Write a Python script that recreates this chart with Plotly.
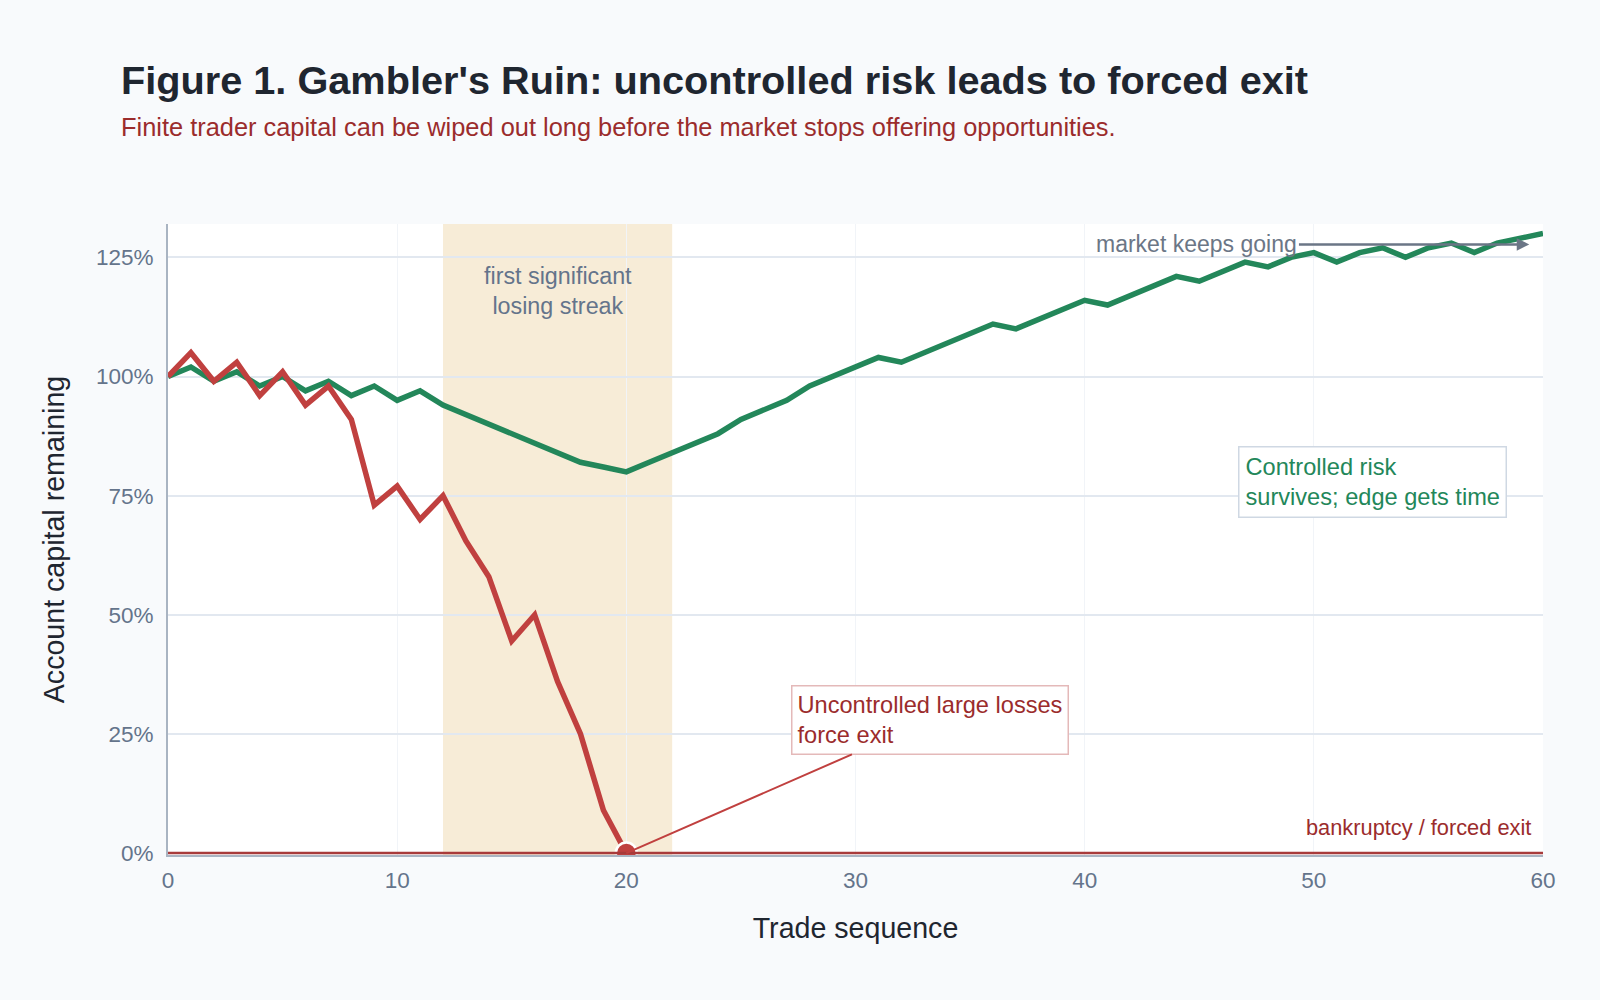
import plotly.graph_objects as go

# ---------------- data ----------------
trades = list(range(0, 61))
controlled = [100, 102, 99, 101, 98, 100, 97, 99, 96, 98, 95, 97, 94, 92, 90, 88, 86, 84, 82, 81,
              80, 82, 84, 86, 88, 91, 93, 95, 98, 100, 102, 104, 103, 105, 107, 109, 111, 110, 112, 114,
              116, 115, 117, 119, 121, 120, 122, 124, 123, 125, 126, 124, 126, 127, 125, 127, 128, 126, 128, 129,
              130]
uncontrolled_x = list(range(0, 21))
uncontrolled = [100, 105, 99, 103, 96, 101, 94, 98, 91, 73, 77, 70, 75, 65.5, 58, 44.5, 50, 36, 25, 9, 0]

streak_start, streak_end = 12, 22
exit_trade, exit_value = 20, 0
y_ticks = [0, 25, 50, 75, 100, 125]
y_ticktext = ["0%", "25%", "50%", "75%", "100%", "125%"]
x_ticks = [0, 10, 20, 30, 40, 50, 60]

GREEN = "#23875a"
RED = "#c0403f"
DARKRED = "#9b2c2c"
SLATE = "#64748b"
FONT = "Liberation Sans, Arial, sans-serif"

fig = go.Figure()

fig.add_trace(go.Scatter(x=trades, y=controlled, mode="lines",
                         line=dict(color=GREEN, width=5.5), name="Controlled risk",
                         hoverinfo="skip"))
fig.add_trace(go.Scatter(x=uncontrolled_x, y=uncontrolled, mode="lines",
                         line=dict(color=RED, width=5.5), name="Uncontrolled risk",
                         hoverinfo="skip"))

# shaded losing streak band
fig.add_shape(type="rect", xref="x", yref="paper", x0=streak_start, x1=streak_end, y0=0, y1=1,
              fillcolor="#f7ecd7", line=dict(width=0), layer="below")
# bankruptcy line
fig.add_shape(type="line", xref="paper", yref="y", x0=0, x1=1, y0=0, y1=0,
              line=dict(color="#a83a3a", width=2.5))

# forced-exit point (drawn after the line so it sits on top)
fig.add_trace(go.Scatter(x=[exit_trade], y=[exit_value], mode="markers",
                         marker=dict(color=RED, size=21, line=dict(color="white", width=2.5)),
                         cliponaxis=True, hoverinfo="skip"))

annotations = [
    dict(text="<b>Figure 1. Gambler's Ruin: uncontrolled risk leads to forced exit</b>",
         xref="paper", yref="paper", x=-0.036, y=1.229, xanchor="left", yanchor="middle",
         showarrow=False, font=dict(size=39.7, color="#1f2630", family=FONT)),
    dict(text="Finite trader capital can be wiped out long before the market stops offering opportunities.",
         xref="paper", yref="paper", x=-0.036, y=1.153, xanchor="left", yanchor="middle",
         showarrow=False, font=dict(size=25.4, color=DARKRED, family=FONT)),
    dict(text="first significant<br>losing streak", x=(streak_start + streak_end) / 2, y=118,
         xref="x", yref="y", showarrow=False, align="center",
         font=dict(size=23.3, color=SLATE, family=FONT)),
    dict(text="Uncontrolled large losses<br>force exit", x=exit_trade, y=exit_value,
         ax=33.26, ay=27.9, axref="x", ayref="y", xref="x", yref="y",
         showarrow=True, arrowhead=0, arrowwidth=2, arrowcolor=RED, standoff=0,
         align="left", bgcolor="white", bordercolor="#e4b9b9", borderwidth=1.5, borderpad=5,
         font=dict(size=23.6, color=DARKRED, family=FONT)),
    dict(text="Controlled risk<br>survives; edge gets time", x=52.56, y=77.9, xref="x", yref="y",
         showarrow=False, align="left", bgcolor="white", bordercolor="#cfd8e3",
         borderwidth=1.5, borderpad=6, font=dict(size=23.6, color=GREEN, family=FONT)),
    dict(text="market keeps going", x=59.4, y=127.7, ax=49.35, ay=127.7, axref="x", ayref="y",
         xref="x", yref="y", xanchor="right", showarrow=True, arrowhead=2, arrowsize=1,
         arrowwidth=2.5, arrowcolor="#6b7686", standoff=0,
         font=dict(size=23, color="#6b7686", family=FONT)),
    dict(text="bankruptcy / forced exit", x=60, y=0, xref="x", yref="y", xanchor="right",
         yanchor="bottom", xshift=-10, yshift=11, showarrow=False,
         font=dict(size=21.8, color=DARKRED, family=FONT)),
]

fig.update_layout(
    width=1600, height=1000,
    paper_bgcolor="#f8fafc", plot_bgcolor="#ffffff",
    margin=dict(l=168, r=57, t=224, b=145),
    showlegend=False,
    font=dict(family=FONT, color=SLATE),
    annotations=annotations,
)
fig.update_xaxes(range=[0, 60], tickvals=x_ticks, showgrid=True, gridcolor="#f1f4f8", gridwidth=1,
                 showline=True, linecolor="#a9b4c2", linewidth=2, zeroline=False, ticks="",
                 ticklabelstandoff=4,
                 tickfont=dict(size=22.5, color=SLATE, family=FONT),
                 title=dict(text="Trade sequence", font=dict(size=28.6, color="#1f2630", family=FONT),
                            standoff=26))
fig.update_yaxes(range=[-0.4, 132], tickvals=y_ticks, ticktext=y_ticktext, showgrid=True,
                 gridcolor="#e2e8f0", gridwidth=2, showline=True, linecolor="#a9b4c2", linewidth=2,
                 zeroline=False, ticks="", ticklabelstandoff=8,
                 tickfont=dict(size=22.5, color=SLATE, family=FONT),
                 title=dict(text="Account capital remaining", font=dict(size=28.6, color="#1f2630", family=FONT),
                            standoff=23))

fig.write_html("out.html")
